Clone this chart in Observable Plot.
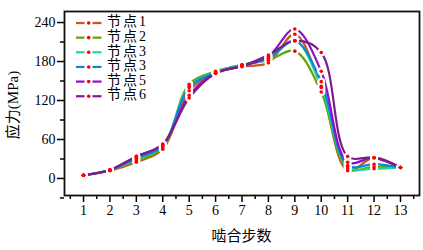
<!DOCTYPE html>
<html>
<head>
<meta charset="utf-8">
<script src="https://cdn.jsdelivr.net/npm/d3@7"></script>
<script src="https://cdn.jsdelivr.net/npm/@observablehq/plot@0.6"></script>
<style>
  html, body { margin: 0; padding: 0; background: #fff; }
  svg { display: block; }
  #chart svg text { font-family: "Liberation Serif", "Times New Roman", Times, "DejaVu Serif", serif, "Noto Sans CJK SC" !important; }
</style>
</head>
<body>
<div id="chart"></div>
<script>
const steps = [1,2,3,4,5,6,7,8,9,10,11,12,13];
const seriesNames = ["节点1","节点2","节点3","节点3","节点5","节点6"];
const seriesColors = ["#c8581c","#63a30a","#1ed59b","#0e86d4","#8b13c8","#7b1c8a"];
const node1 = [5, 12, 25, 45, 135, 162, 172, 178, 222, 140, 12, 32, 17];
const node2 = [5, 13, 27, 47, 145, 165, 175, 182, 196, 133, 15, 18, 17];
const node3 = [5, 13, 30, 50, 142, 164, 175, 184, 212, 142, 18, 15, 17];
const node3b = [5, 13, 31, 50, 140, 163, 174, 185, 212, 149, 20, 22, 17];
const node5 = [5, 13, 34, 52, 128, 162, 173, 188, 230, 165, 25, 32, 17];
const node6 = [5, 13, 34, 53, 124, 162, 173, 190, 212, 194, 34, 32, 17];
const seriesValues = [node1, node2, node3, node3b, node5, node6];
const xTicks = [1,2,3,4,5,6,7,8,9,10,11,12,13];
const xMinor = [0.5,1.5,2.5,3.5,4.5,5.5,6.5,7.5,8.5,9.5,10.5,11.5,12.5,13.5];
const yTicks = [0,60,120,180,240];
const yMinor = [-30,30,90,150,210];

const rows = [];
seriesValues.forEach((vals, si) => {
  vals.forEach((v, i) => rows.push({s: si, x: steps[i], y: v}));
});

const W = 423, H = 250;
const mL = 64, mR = 4, mT = 11, mB = 55;

const lineMarks = seriesValues.map((vals, si) =>
  Plot.line(rows.filter(d => d.s === si), {
    x: "x", y: "y", curve: "catmull-rom",
    stroke: seriesColors[si], strokeWidth: 2.2
  })
);

const plot = Plot.plot({
  width: W, height: H,
  marginLeft: mL, marginRight: mR, marginTop: mT, marginBottom: mB,
  style: {background: "#fff", overflow: "visible"},
  x: {domain: [0.28, 13.72]},
  y: {domain: [-26.2, 257]},
  marks: [
    ...lineMarks,
    Plot.dot(rows, {x: "x", y: "y", r: 4, fill: "#fff", stroke: "none"}),
    Plot.dot(rows, {x: "x", y: "y", r: 1.8, fill: "#ff0000", stroke: "none"}),
    Plot.axisX({ticks: xMinor, tickSize: 4, tickFormat: null, text: null, label: null, strokeWidth: 1.5}),
    Plot.axisX({ticks: xTicks, tickSize: 7, tickPadding: 3, fontSize: 14, label: null, strokeWidth: 1.5, fill: "#000"}),
    Plot.axisY({ticks: yMinor, tickSize: 4, text: null, label: null, strokeWidth: 1.5}),
    Plot.axisY({ticks: yTicks, tickSize: 7, tickPadding: 2, fontSize: 14, label: null, strokeWidth: 1.5, fill: "#000"}),
    Plot.frame({stroke: "#111", strokeWidth: 1.8})
  ]
});

document.getElementById("chart").appendChild(plot);

const svg = d3.select(plot);
// axis titles
svg.append("text")
  .attr("x", (mL + (W - mR)) / 2).attr("y", 238)
  .attr("text-anchor", "middle").attr("dominant-baseline", "middle")
  .attr("font-size", 15).attr("fill", "#000")
  .text("啮合步数");
svg.append("text")
  .attr("transform", `translate(15, ${(mT + (H - mB)) / 2 + 2}) rotate(-90)`)
  .attr("text-anchor", "middle").attr("dominant-baseline", "middle")
  .attr("font-size", 15).attr("fill", "#000")
  .text("应力(MPa)");

// legend
const lg = svg.append("g");
seriesNames.forEach((name, i) => {
  const y = 23 + i * 14.65;
  lg.append("line").attr("x1", 76).attr("x2", 84.5).attr("y1", y).attr("y2", y)
    .attr("stroke", seriesColors[i]).attr("stroke-width", 2.2);
  lg.append("line").attr("x1", 92.5).attr("x2", 101.5).attr("y1", y).attr("y2", y)
    .attr("stroke", seriesColors[i]).attr("stroke-width", 2.2);
  lg.append("circle").attr("cx", 88.7).attr("cy", y).attr("r", 1.8).attr("fill", "#ff0000");
  lg.append("text").attr("x", 107).attr("y", y).attr("dominant-baseline", "middle")
    .attr("text-anchor", "start")
    .attr("font-size", 14).attr("fill", "#000")
    .attr("letter-spacing", 2)
    .text(name);
});
</script>
</body>
</html>
